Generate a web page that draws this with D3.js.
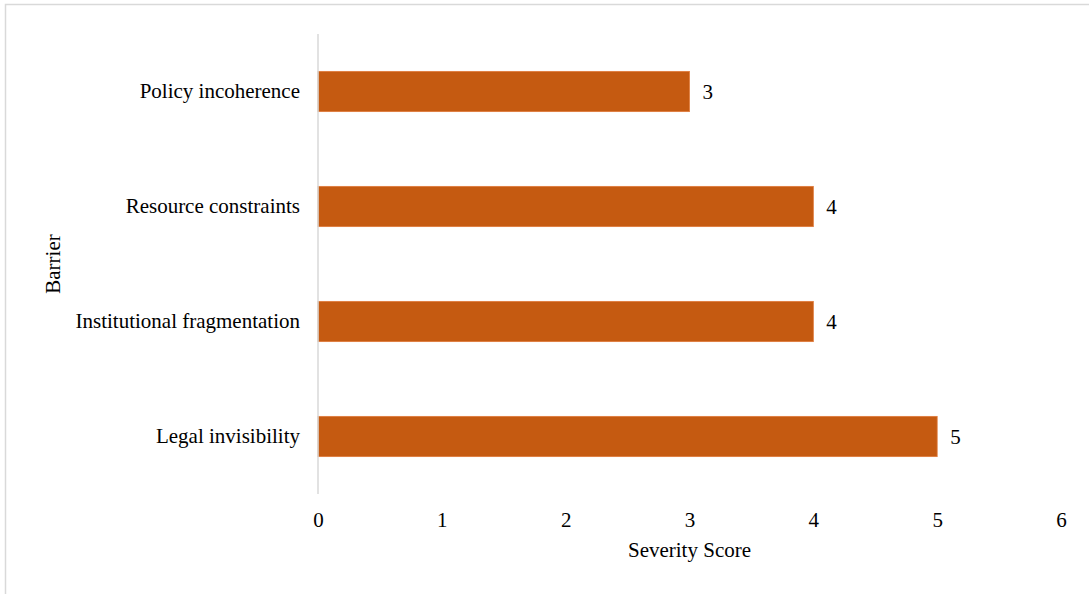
<!DOCTYPE html>
<html>
<head>
<meta charset="utf-8">
<script src="https://cdn.jsdelivr.net/npm/d3@7"></script>
<style>
  html, body { margin: 0; padding: 0; background: #fff; }
  svg { display: block; }
  text { font-family: "Liberation Serif", "Times New Roman", serif; fill: #000; }
</style>
</head>
<body>
<svg id="chart" width="1089" height="594"></svg>
<script>
// Barrier categories, listed top to bottom
const barriers = ["Policy incoherence", "Resource constraints", "Institutional fragmentation", "Legal invisibility"];
// Severity score for each barrier
const severity = [3, 4, 4, 5];
// Horizontal axis ticks
const xTicks = [0, 1, 2, 3, 4, 5, 6];

const svg = d3.select("#chart");
const W = 1089, H = 594;
const FS = "21px";
const margin = { left: 318, right: 28, top: 34, bottom: 100 };

// Outer chart frame
svg.append("rect")
  .attr("x", 5.5).attr("y", 4.5)
  .attr("width", W + 10).attr("height", H + 10)
  .attr("fill", "#fff")
  .attr("stroke", "#d9d9d9").attr("stroke-width", 1.5);

const x = d3.scaleLinear().domain([0, 6]).range([margin.left, W - margin.right]);
const y = d3.scaleBand().domain(barriers).range([margin.top, H - margin.bottom]).paddingInner(0.65).paddingOuter(0.325);

const data = barriers.map((b, i) => ({ barrier: b, value: severity[i] }));

// Bars
svg.append("g").selectAll("rect").data(data).join("rect")
  .attr("x", x(0))
  .attr("y", d => y(d.barrier))
  .attr("width", d => x(d.value) - x(0))
  .attr("height", y.bandwidth())
  .attr("fill", "#c55a11")
  .attr("stroke", "#e07a3a").attr("stroke-width", 0.8);

// Vertical axis line
svg.append("line")
  .attr("x1", x(0)).attr("x2", x(0))
  .attr("y1", margin.top).attr("y2", H - margin.bottom)
  .attr("stroke", "#d9d9d9").attr("stroke-width", 1.5);

// Category labels
const yAxis = d3.axisLeft(y).tickSize(0).tickPadding(18);
const yg = svg.append("g").attr("transform", `translate(${x(0)},0)`).call(yAxis);
yg.select(".domain").remove();
yg.selectAll("text").style("font-size", FS).attr("font-family", null);

// Value axis tick labels
const xAxis = d3.axisBottom(x).tickValues(xTicks).tickFormat(d3.format("d")).tickSize(0).tickPadding(18);
const xg = svg.append("g").attr("transform", `translate(0,${H - margin.bottom})`).call(xAxis);
xg.select(".domain").remove();
xg.selectAll("text").style("font-size", FS).attr("font-family", null);

// Value labels at bar ends
svg.append("g").selectAll("text").data(data).join("text")
  .attr("x", d => x(d.value) + 13)
  .attr("y", d => y(d.barrier) + y.bandwidth() / 2)
  .attr("dy", "0.35em")
  .style("font-size", FS)
  .text(d => d.value);

// Axis titles
svg.append("text")
  .attr("x", (x(0) + x(6)) / 2).attr("y", 557)
  .attr("text-anchor", "middle")
  .style("font-size", FS)
  .text("Severity Score");

svg.append("text")
  .attr("transform", `translate(60,${(margin.top + H - margin.bottom) / 2}) rotate(-90)`)
  .attr("text-anchor", "middle")
  .style("font-size", FS)
  .text("Barrier");
</script>
</body>
</html>
